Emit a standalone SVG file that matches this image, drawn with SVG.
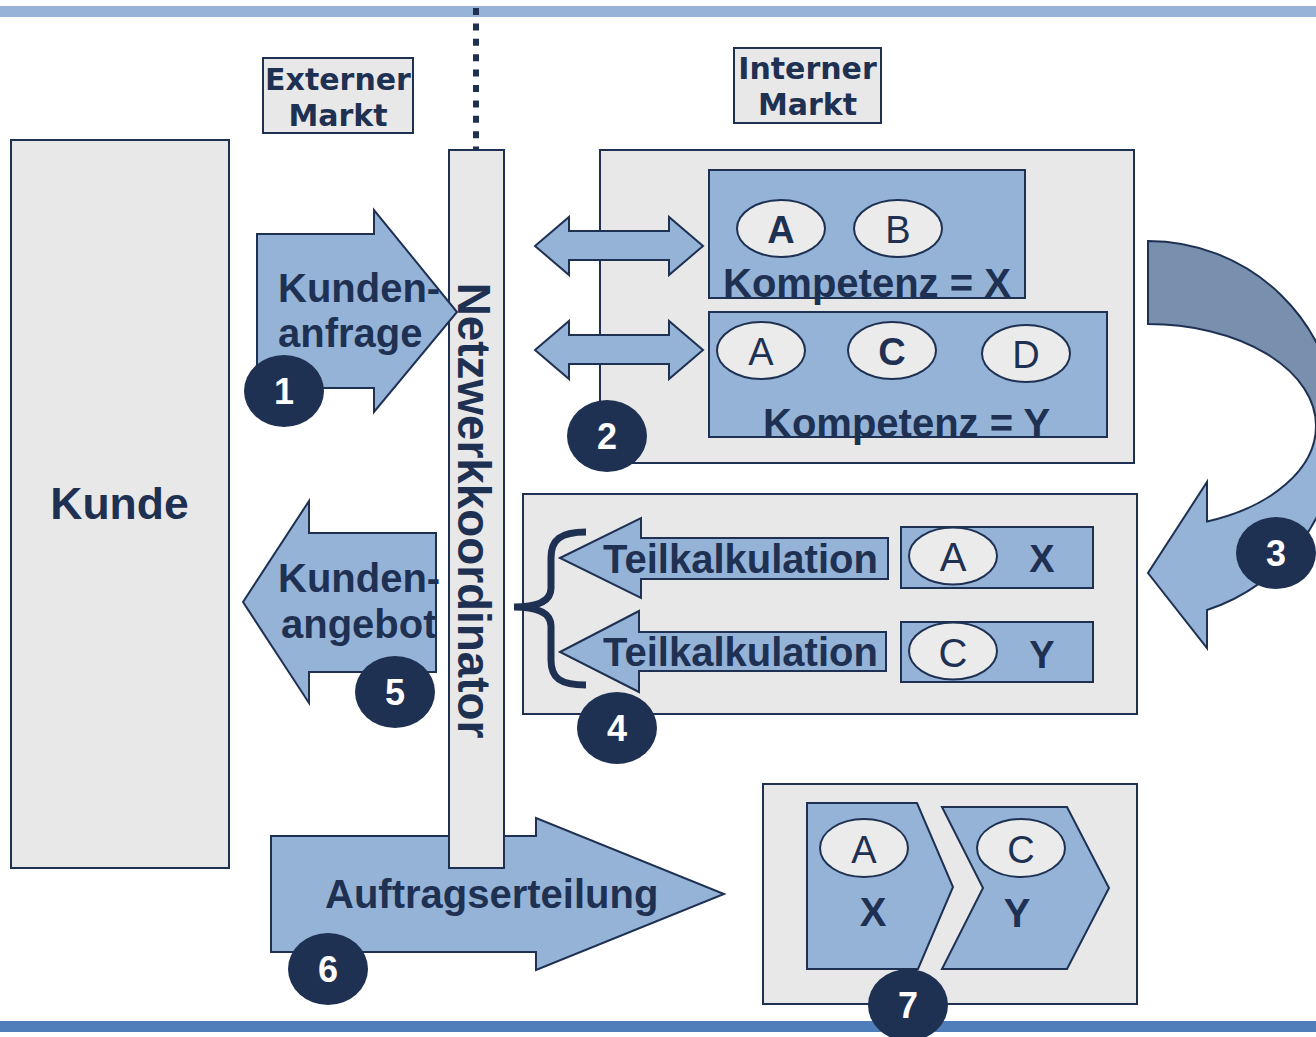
<svg xmlns="http://www.w3.org/2000/svg" width="1316" height="1037" viewBox="0 0 1316 1037">
<style>
.box{fill:#E8E8E8;stroke:#1F3152;stroke-width:2}
.blue{fill:#95B3D7;stroke:#1F3152;stroke-width:2}
.oval{fill:#EBEBEB;stroke:#1F3152;stroke-width:2}
.num{fill:#1F3152}
.nt{fill:#FFFFFF;font-family:"Liberation Sans",Arial,sans-serif;font-weight:bold;font-size:36px;text-anchor:middle}
.t{fill:#1F3152;font-family:"Liberation Sans",Arial,sans-serif;font-weight:bold;font-size:40px}
.r{fill:#1F3152;font-family:"Liberation Sans",Arial,sans-serif;font-size:38px;text-anchor:middle}
.b{fill:#1F3152;font-family:"Liberation Sans",Arial,sans-serif;font-weight:bold;font-size:38px;text-anchor:middle}
.v{fill:#1F3152;font-family:"DejaVu Sans",Verdana,sans-serif;font-weight:bold;font-size:30px;text-anchor:middle}
</style>
<defs>
<ellipse id="badge" cx="0" cy="0" rx="40" ry="36"/>
</defs>
<rect x="0" y="6" width="1316" height="11" fill="#98B3D8"/>
<rect x="0" y="1021" width="1316" height="11" fill="#4F7EBB"/>
<line x1="476" y1="8" x2="476" y2="150" stroke="#1F3152" stroke-width="6" stroke-dasharray="7 8.4"/>

<g id="externer-markt">
<rect class="box" x="263" y="58" width="150" height="75"/>
<text class="v" x="338" y="90">Externer</text>
<text class="v" x="338" y="126">Markt</text>
</g>
<g id="interner-markt">
<rect class="box" x="734" y="48" width="147" height="75"/>
<text class="v" x="807.5" y="79">Interner</text>
<text class="v" x="807.5" y="115">Markt</text>
</g>

<g id="kunde">
<rect class="box" x="11" y="140" width="218" height="728" stroke-width="1.5"/>
<text class="t" x="119.5" y="519" text-anchor="middle" style="font-size:44.5px">Kunde</text>
</g>

<g id="auftragserteilung">
<polygon class="blue" points="271,836 536,836 536,818 724,894 536,970 536,952 271,952"/>
<text class="t" x="325" y="908">Auftragserteilung</text>
</g>

<g id="netzwerkkoordinator">
<rect class="box" x="449" y="150" width="55" height="718"/>
<text class="t" transform="translate(458,510.5) rotate(90)" text-anchor="middle" style="font-size:45.8px">Netzwerkkoordinator</text>
</g>

<g id="kundenanfrage">
<polygon class="blue" points="257,234 374,234 374,210 457,312 374,412 374,388 257,388"/>
<text class="t" x="278" y="302">Kunden-</text>
<text class="t" x="278" y="347">anfrage</text>
</g>

<g id="kundenangebot">
<polygon class="blue" points="243,602 309,501 309,533 436,533 436,672 309,672 309,703"/>
<text class="t" x="278" y="592">Kunden-</text>
<text class="t" x="281" y="638">angebot</text>
</g>

<g id="kompetenzen">
<rect class="box" x="600" y="150" width="534" height="313"/>
<rect class="blue" x="709" y="170" width="316" height="128"/>
<ellipse class="oval" cx="781" cy="228.5" rx="44" ry="28.5"/>
<text class="b" x="781" y="243">A</text>
<ellipse class="oval" cx="898" cy="228.5" rx="44" ry="28.5"/>
<text class="r" x="898" y="243">B</text>
<text class="t" x="723" y="297">Kompetenz = X</text>
<rect class="blue" x="709" y="312" width="398" height="125"/>
<ellipse class="oval" cx="761" cy="350.5" rx="44" ry="28.5"/>
<text class="r" x="761" y="365">A</text>
<ellipse class="oval" cx="892" cy="350.5" rx="44" ry="28.5"/>
<text class="b" x="892" y="365">C</text>
<ellipse class="oval" cx="1026" cy="353.5" rx="44" ry="28.5"/>
<text class="r" x="1026" y="368">D</text>
<text class="t" x="763" y="437">Kompetenz = Y</text>
</g>

<g id="teilkalkulation">
<rect class="box" x="523" y="494" width="614" height="220"/>
<polygon class="blue" points="560,558 641,518 641,538 888,538 888,579 641,579 641,598"/>
<text class="t" x="603" y="573">Teilkalkulation</text>
<polygon class="blue" points="560,652 639,611 639,632 886,632 886,671 639,671 639,692"/>
<text class="t" x="603" y="666">Teilkalkulation</text>
<rect class="blue" x="901" y="527" width="192" height="61"/>
<ellipse class="oval" cx="953" cy="556" rx="44" ry="28.5"/>
<text class="r" x="953" y="571" style="font-size:40px">A</text>
<text class="b" x="1042" y="572">X</text>
<rect class="blue" x="901" y="622" width="192" height="60"/>
<ellipse class="oval" cx="953" cy="651" rx="44" ry="28.5"/>
<text class="r" x="953" y="667" style="font-size:40px">C</text>
<text class="b" x="1042" y="668">Y</text>
<path d="M586,532 C560,532 551,540 551,558 L551,588 C551,600 540,607 514,607 C540,607 551,614 551,626 L551,660 C551,678 560,685 586,685" fill="none" stroke="#1F3152" stroke-width="7"/>
</g>

<g id="auftrag">
<rect class="box" x="763" y="784" width="374" height="220"/>
<polygon class="blue" points="807,803 917,803 953,887 918,969 807,969"/>
<polygon class="blue" points="942,807 1067,807 1109,888 1067,969 942,969 983,888"/>
<ellipse class="oval" cx="864" cy="848" rx="44" ry="29"/>
<text class="r" x="864" y="863">A</text>
<ellipse class="oval" cx="1021" cy="848" rx="44" ry="29"/>
<text class="r" x="1021" y="863">C</text>
<text class="b" x="873" y="926" style="font-size:40px">X</text>
<text class="b" x="1017" y="927" style="font-size:40px">Y</text>
</g>

<g id="connectors">
<polygon class="blue" points="535,246 569,217 569,231 669,231 669,217 703,246 669,275 669,260 569,260 569,275"/>
<polygon class="blue" points="535,350 569,321 569,335 669,335 669,321 703,350 669,379 669,364 569,364 569,379"/>
<path d="M1148,241 A190,189 0 0 1 1338,426 L1316,426 A168,102 0 0 0 1148,324 Z" fill="#7890AE" stroke="#1F3152" stroke-width="2"/>
<path d="M1338,426 A190,189 0 0 1 1207,610 L1207,648 L1148,573 L1207,482 L1207,521.5 A168,102 0 0 0 1316,426 Z" fill="#95B3D7" stroke="#1F3152" stroke-width="2"/>
</g>

<g id="badges">
<g transform="translate(284,391)"><use href="#badge" class="num"/><text class="nt" y="13">1</text></g>
<g transform="translate(607,436)"><use href="#badge" class="num"/><text class="nt" y="13">2</text></g>
<g transform="translate(1276,553)"><use href="#badge" class="num"/><text class="nt" y="13">3</text></g>
<g transform="translate(617,728)"><use href="#badge" class="num"/><text class="nt" y="13">4</text></g>
<g transform="translate(395,692)"><use href="#badge" class="num"/><text class="nt" y="13">5</text></g>
<g transform="translate(328,969)"><use href="#badge" class="num"/><text class="nt" y="13">6</text></g>
<g transform="translate(908,1005)"><use href="#badge" class="num"/><text class="nt" y="13">7</text></g>
</g>
</svg>
